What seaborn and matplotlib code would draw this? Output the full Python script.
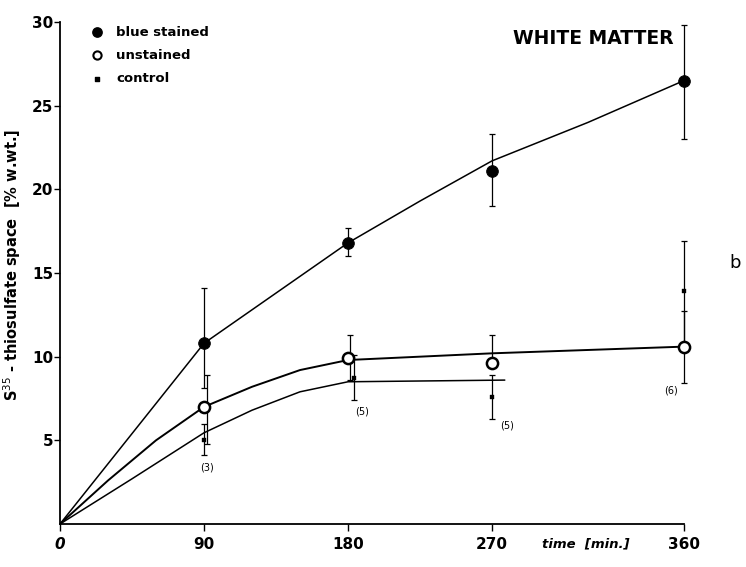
import numpy as np
import pandas as pd
import matplotlib
matplotlib.use("Agg")
import matplotlib.pyplot as plt
import seaborn as sns

# ---- data ----
times = [90, 180, 270, 360]

blue_mean = [10.8, 16.8, 21.1, 26.5]
blue_lo = [8.1, 16.0, 19.0, 23.0]
blue_hi = [14.1, 17.7, 23.3, 29.8]

unst_mean = [7.0, 9.9, 9.6, 10.6]
unst_lo = [4.8, 8.6, 9.6, 8.4]
unst_hi = [8.9, 11.3, 11.3, 12.7]
unst_err_time = [92, 181, 270, 360]

ctrl_mean = [5.0, 8.7, 7.6, 13.9]
ctrl_lo = [4.1, 7.4, 6.3, 10.9]
ctrl_hi = [6.0, 10.1, 8.9, 16.9]
ctrl_err_time = [90, 184, 270, 360]

# hand-drawn fitted curves
blue_fit_t = [0, 90, 135, 180, 225, 270, 315, 360]
blue_fit_y = [0, 10.8, 13.8, 16.8, 19.3, 21.7, 24.0, 26.5]
unst_fit_t = [0, 30, 60, 90, 120, 150, 180, 270, 360]
unst_fit_y = [0, 2.6, 5.0, 7.0, 8.2, 9.2, 9.8, 10.2, 10.6]
ctrl_fit_t = [0, 45, 90, 120, 150, 180, 276]
ctrl_fit_y = [0, 2.7, 5.45, 6.8, 7.9, 8.5, 8.6]

n_labels = ["(3)", "(5)", "(5)", "(6)"]
n_label_t = [92, 189, 277, 354]
n_label_y = [3.4, 6.7, 5.9, 8.0]

xticks = [0, 90, 180, 270, 360]
yticks = [5, 10, 15, 20, 25, 30]

# the original time axis is drawn with the last interval (270-360) stretched
axis_breaks_t = [0, 270, 360]
axis_breaks_pos = [0, 270, 390]

def fwd(t):
    return np.interp(t, axis_breaks_t, axis_breaks_pos)

def inv(p):
    return np.interp(p, axis_breaks_pos, axis_breaks_t)

sns.set_theme(style="white")
plt.rcParams['font.family'] = ['DejaVu Sans']
for k in ["text.color", "axes.labelcolor", "xtick.color", "ytick.color", "axes.edgecolor"]:
    plt.rcParams[k] = "black"

fig = plt.figure(figsize=(7.46, 5.67), dpi=100)
ax = fig.add_axes([60/746, 43/567, 624/746, 502/567])
ax.set_xscale("function", functions=(fwd, inv))

# fitted curves
for t, y, lw in [(blue_fit_t, blue_fit_y, 1.1), (unst_fit_t, unst_fit_y, 1.4), (ctrl_fit_t, ctrl_fit_y, 1.1)]:
    sns.lineplot(x=t, y=y, ax=ax, color="black", lw=lw, sort=False, estimator=None)

# error bars
ekw = dict(fmt="none", ecolor="black", elinewidth=0.9, capsize=2.2, capthick=0.9, clip_on=False)
ax.errorbar(times, blue_mean, yerr=[np.subtract(blue_mean, blue_lo), np.subtract(blue_hi, blue_mean)], **ekw)
ax.errorbar(unst_err_time, unst_mean, yerr=[np.subtract(unst_mean, unst_lo), np.subtract(unst_hi, unst_mean)], **ekw)
ax.errorbar(ctrl_err_time, ctrl_mean, yerr=[np.subtract(ctrl_mean, ctrl_lo), np.subtract(ctrl_hi, ctrl_mean)], **ekw)

# points
sns.scatterplot(x=times, y=blue_mean, ax=ax, color="black", s=70, marker="o", edgecolor="black", zorder=5, clip_on=False)
sns.scatterplot(x=times, y=unst_mean, ax=ax, color="white", s=65, marker="o", edgecolor="black", linewidth=1.8, zorder=5, clip_on=False)
sns.scatterplot(x=ctrl_err_time, y=ctrl_mean, ax=ax, color="black", s=10, marker="s", edgecolor="black", zorder=6, clip_on=False)

for lab, t, y in zip(n_labels, n_label_t, n_label_y):
    ax.text(t, y, lab, fontsize=7, ha="center", va="center")

ax.set_xlim(0, 360)
ax.set_ylim(0, 30)
ax.set_xticks(xticks)
ax.set_xticklabels([])
ax.set_yticks(yticks)
ax.set_yticklabels([str(v) for v in yticks], fontsize=11, fontweight="bold")
for t in xticks:
    ax.text(t, -0.8, str(t), ha="center", va="top", fontsize=11, fontweight="bold",
            style="italic" if t == 0 else "normal")
ax.text(314, -0.8, "time  [min.]", ha="center", va="top", fontsize=9.5, fontweight="bold", style="italic")

sns.despine(ax=ax)
for s in ["left", "bottom"]:
    ax.spines[s].set_color("black")
    ax.spines[s].set_linewidth(1.3)
ax.tick_params(axis="both", direction="out", length=4, width=1, color="black", left=True, bottom=True, pad=1)
ax.tick_params(axis="x", length=5)

ax.set_ylabel("S$^{35}$ - thiosulfate space  [% w.wt.]", fontsize=10.5, fontweight="bold")
ax.yaxis.set_label_coords(-0.06, 0.516)

# legend
leg_x = 23
leg_text_x = 35
for yv, lab, kw in [(29.4, "blue stained", dict(color="black", s=45, marker="o")),
                    (28.0, "unstained", dict(color="white", s=35, marker="o", edgecolor="black", linewidth=1.5)),
                    (26.6, "control", dict(color="black", s=8, marker="s"))]:
    ax.scatter([leg_x], [yv], zorder=6, clip_on=False, **kw)
    ax.text(leg_text_x, yv, lab, fontsize=9.5, fontweight="bold", va="center", ha="left")

ax.text(355, 29.0, "WHITE MATTER", fontsize=13.5, fontweight="bold", ha="right", va="center")
fig.text(735/746, 1 - 263/567, "b", fontsize=13, ha="center", va="center")

fig.savefig("out.png", dpi=100, facecolor="white")
